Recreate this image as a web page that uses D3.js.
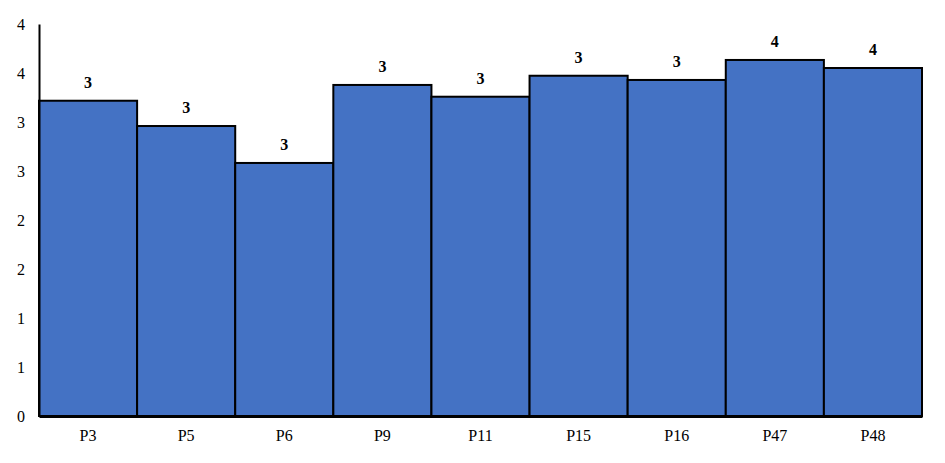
<!DOCTYPE html>
<html><head><meta charset="utf-8">
<script src="https://cdn.jsdelivr.net/npm/d3@7"></script>
<style>body{margin:0;background:#fff}svg{display:block}svg text{font-family:"Liberation Serif","Times New Roman",serif}</style>
</head><body><svg id="c" width="945" height="463"></svg>
<script>
const categories = ["P3","P5","P6","P9","P11","P15","P16","P47","P48"];
const values = [3.217, 2.959, 2.582, 3.378, 3.258, 3.472, 3.429, 3.633, 3.551];
const yTicks = [0,0.5,1,1.5,2,2.5,3,3.5,4];

const svg = d3.select("#c");
const m = {l:39, r:23, t:24, b:47};
const W = 945, H = 463;
const x = d3.scaleBand().domain(categories).range([m.l, W - m.r]).padding(0);
const y = d3.scaleLinear().domain([0,4]).range([H - m.b, m.t]);
const fmt = d3.format(".0f");
const FF = '"Liberation Serif","Times New Roman",serif';

svg.append("g").selectAll("rect").data(values).join("rect")
  .attr("x",(d,i)=>x(categories[i]))
  .attr("y",d=>y(d))
  .attr("width",x.bandwidth())
  .attr("height",d=>y(0)-y(d))
  .attr("fill","#4472C4")
  .attr("stroke","#000")
  .attr("stroke-width",2);

svg.append("g").selectAll("text").data(values).join("text")
  .attr("x",(d,i)=>x(categories[i])+x.bandwidth()/2)
  .attr("y",d=>y(d)-13)
  .attr("text-anchor","middle")
  .style("font-family",FF)
  .style("font-weight","bold")
  .style("font-size","16px")
  .attr("fill","#000")
  .text(d=>fmt(d));

// Y axis
const ya = svg.append("g").attr("transform",`translate(${m.l},0)`)
  .call(d3.axisLeft(y).tickValues(yTicks).tickFormat(fmt).tickSize(0).tickPadding(14));
ya.attr("font-family",null);
ya.select(".domain").attr("stroke","#000").attr("stroke-width",2);
ya.selectAll("text").style("font-family",FF).style("font-size","16px").attr("fill","#000");

// X axis
const xa = svg.append("g").attr("transform",`translate(0,${y(0)})`)
  .call(d3.axisBottom(x).tickSize(0).tickPadding(14));
xa.attr("font-family",null);
xa.select(".domain").attr("stroke","#000").attr("stroke-width",3);
xa.selectAll("text").style("font-family",FF).style("font-size","16px").attr("fill","#000");
</script></body></html>
